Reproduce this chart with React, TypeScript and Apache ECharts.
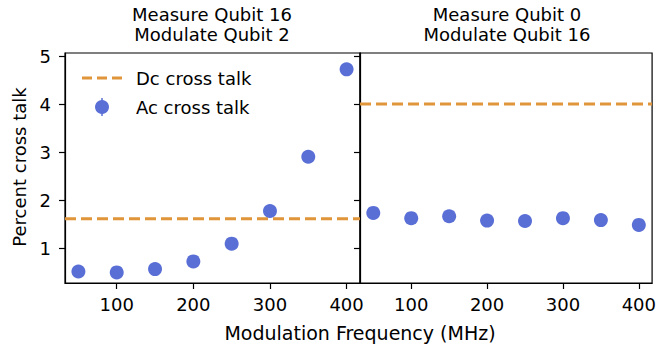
import React, { useEffect, useRef } from "react";
import * as echarts from "echarts";

const frequencies = [50, 100, 150, 200, 250, 300, 350, 400];
const acLeft = [0.52, 0.5, 0.57, 0.73, 1.1, 1.78, 2.91, 4.73];
const acRight = [1.74, 1.63, 1.67, 1.58, 1.57, 1.63, 1.59, 1.49];
const dcLeft = 1.62;
const dcRight = 4.01;
const xTicks = [100, 200, 300, 400];
const yTicks = [1, 2, 3, 4, 5];
const titlesLeft = ["Measure Qubit 16", "Modulate Qubit 2"];
const titlesRight = ["Measure Qubit 0", "Modulate Qubit 16"];

const X_MIN = 32.5;
const X_MAX = 417.5;
const Y_MIN = 0.28;
const Y_MAX = 5.07;

const FONT = "DejaVu Sans";
const BLUE = "#5a6fd6";
const ORANGE = "#e0953a";

export default function App() {
  const ref = useRef<HTMLDivElement>(null);

  useEffect(() => {
    if (!ref.current) return;
    const chart = echarts.init(ref.current, null, { renderer: "svg" });

    const grids = [
      { left: 65, top: 53, width: 295, height: 230 },
      { left: 360, top: 53, width: 295, height: 230 },
    ];

    const mkX = (i: number) => ({
      type: "value",
      gridIndex: i,
      min: X_MIN,
      max: X_MAX,
      axisLine: { show: true, onZero: false, lineStyle: { color: "#000", width: 1.2 } },
      axisTick: { show: true, length: 6, customValues: xTicks, lineStyle: { color: "#000", width: 1.2 } },
      axisLabel: {
        show: true,
        customValues: xTicks,
        margin: 12,
        fontSize: 18,
        fontFamily: FONT,
        color: "#000",
      },
      splitLine: { show: false },
    });

    const mkY = (i: number) => ({
      type: "value",
      gridIndex: i,
      min: Y_MIN,
      max: Y_MAX,
      axisLine: { show: true, lineStyle: { color: "#000", width: 1.2 } },
      axisTick: { show: true, length: 6, customValues: yTicks, lineStyle: { color: "#000", width: 1.2 } },
      axisLabel: {
        show: i === 0,
        customValues: yTicks,
        margin: 14,
        fontSize: 18,
        fontFamily: FONT,
        color: "#000",
      },
      splitLine: { show: false },
    });

    const titleTexts = (lines: string[], cx: number) =>
      lines.map((t, k) => ({
        type: "text",
        x: cx,
        y: 14 + k * 20,
        style: {
          text: t,
          fontSize: 18,
          fontFamily: FONT,
          fill: "#000",
          align: "center",
          verticalAlign: "middle",
        },
      }));

    chart.setOption({
      animation: false,
      backgroundColor: "#fff",
      grid: grids.map((g) => ({
        ...g,
        show: true,
        borderColor: "#000",
        borderWidth: 1.2,
        backgroundColor: "transparent",
      })),
      xAxis: [mkX(0), mkX(1)],
      yAxis: [mkY(0), mkY(1)],
      series: [
        {
          type: "line",
          xAxisIndex: 0,
          yAxisIndex: 0,
          data: [
            [X_MIN, dcLeft],
            [X_MAX, dcLeft],
          ],
          symbol: "none",
          lineStyle: { color: ORANGE, width: 3, type: [11, 5] },
          z: 2,
        },
        {
          type: "scatter",
          xAxisIndex: 0,
          yAxisIndex: 0,
          data: frequencies.map((f, i) => [f, acLeft[i]]),
          symbolSize: 14,
          itemStyle: { color: BLUE, opacity: 1 },
          z: 3,
        },
        {
          type: "line",
          xAxisIndex: 1,
          yAxisIndex: 1,
          data: [
            [X_MIN, dcRight],
            [X_MAX, dcRight],
          ],
          symbol: "none",
          lineStyle: { color: ORANGE, width: 3, type: [11, 5] },
          z: 2,
        },
        {
          type: "scatter",
          xAxisIndex: 1,
          yAxisIndex: 1,
          data: frequencies.map((f, i) => [f, acRight[i]]),
          symbolSize: 14,
          itemStyle: { color: BLUE, opacity: 1 },
          z: 3,
        },
      ],
      graphic: [
        ...titleTexts(titlesLeft, 212),
        ...titleTexts(titlesRight, 507),
        {
          type: "text",
          x: 360,
          y: 333,
          style: {
            text: "Modulation Frequency (MHz)",
            fontSize: 19,
            fontFamily: FONT,
            fill: "#000",
            align: "center",
            verticalAlign: "middle",
          },
        },
        {
          type: "text",
          x: 19,
          y: 167,
          rotation: Math.PI / 2,
          style: {
            text: "Percent cross talk",
            fontSize: 18,
            fontFamily: FONT,
            fill: "#000",
            align: "center",
            verticalAlign: "middle",
          },
        },
        // legend
        {
          type: "line",
          shape: { x1: 82, y1: 78, x2: 122, y2: 78 },
          style: { stroke: ORANGE, lineWidth: 3, lineDash: [10, 5] },
        },
        {
          type: "text",
          x: 136,
          y: 78,
          style: {
            text: "Dc cross talk",
            fontSize: 18,
            fontFamily: FONT,
            fill: "#000",
            align: "left",
            verticalAlign: "middle",
          },
        },
        {
          type: "line",
          shape: { x1: 102, y1: 98, x2: 102, y2: 116 },
          style: { stroke: BLUE, lineWidth: 1.5 },
        },
        {
          type: "circle",
          shape: { cx: 102, cy: 107, r: 7 },
          style: { fill: BLUE },
        },
        {
          type: "text",
          x: 136,
          y: 107,
          style: {
            text: "Ac cross talk",
            fontSize: 18,
            fontFamily: FONT,
            fill: "#000",
            align: "left",
            verticalAlign: "middle",
          },
        },
      ],
    });

    return () => chart.dispose();
  }, []);

  return <div ref={ref} style={{ width: 659, height: 354, position: "absolute", left: 0, top: 0 }} />;
}
